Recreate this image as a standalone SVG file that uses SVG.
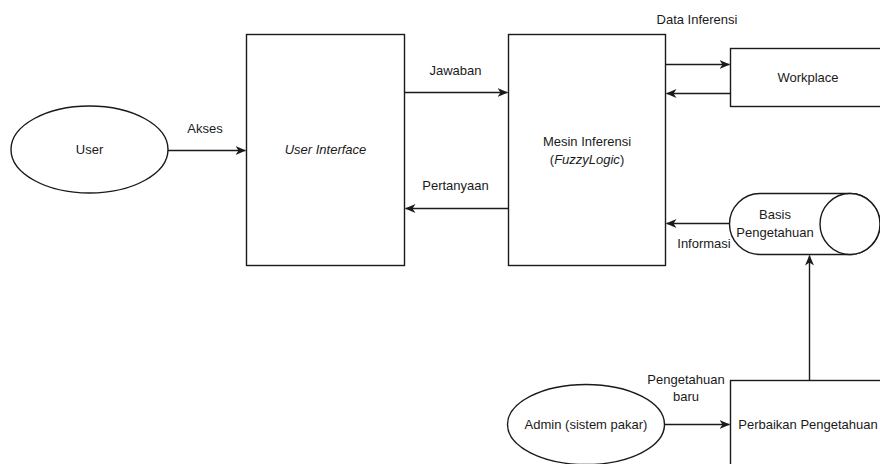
<svg xmlns="http://www.w3.org/2000/svg" width="880" height="464" viewBox="0 0 880 464">
<defs>
<marker id="arr" markerWidth="11" markerHeight="9" refX="10" refY="4.5" orient="auto" markerUnits="userSpaceOnUse">
<path d="M0,0 L10.5,4.5 L0,9 L3,4.5 Z" fill="#1a1a1a"/>
</marker>
<style>
.s{fill:#fff;stroke:#1a1a1a;stroke-width:1.4}
.c{fill:none;stroke:#1a1a1a;stroke-width:1.4;marker-end:url(#arr)}
text{font-family:"Liberation Sans",Arial,sans-serif;font-size:13px;fill:#1a1a1a;text-anchor:middle}
.i{font-style:italic}
</style>
</defs>
<rect width="880" height="464" fill="#fff"/>
<g id="user"><ellipse class="s" cx="89.5" cy="149.5" rx="78.5" ry="43.5"/><text x="89.5" y="154">User</text></g>
<g id="ui"><rect class="s" x="246.5" y="34.5" width="158" height="231"/><text class="i" x="325.5" y="154">User Interface</text></g>
<g id="mesin"><rect class="s" x="508.5" y="34.5" width="157" height="231"/><text x="587" y="146">Mesin Inferensi</text><text x="587" y="164">(<tspan class="i">FuzzyLogic</tspan>)</text></g>
<g id="workplace"><rect class="s" x="730.5" y="48.5" width="160" height="58"/><text x="808" y="82">Workplace</text></g>
<g id="basis"><path class="s" d="M760,193.5 L850,193.5 A30,30.5 0 0 1 850,254.5 L760,254.5 A30.5,30.5 0 0 1 760,193.5 Z"/><ellipse class="s" cx="850" cy="224" rx="30" ry="30.5"/><text x="775" y="219">Basis</text><text x="775" y="237">Pengetahuan</text></g>
<g id="admin"><ellipse class="s" cx="586" cy="424.5" rx="78.5" ry="40"/><text x="586" y="429">Admin (sistem pakar)</text></g>
<g id="perbaikan"><rect class="s" x="730.5" y="380.5" width="160" height="100"/><text x="808" y="429">Perbaikan Pengetahuan</text></g>
<g id="connectors">
<line class="c" x1="168" y1="150.5" x2="245.5" y2="150.5"/>
<line class="c" x1="404.5" y1="92.5" x2="507.5" y2="92.5"/>
<line class="c" x1="508.5" y1="208.5" x2="405.5" y2="208.5"/>
<line class="c" x1="665.5" y1="64.5" x2="729.5" y2="64.5"/>
<line class="c" x1="730.5" y1="93.5" x2="666.5" y2="93.5"/>
<line class="c" x1="729.5" y1="223.5" x2="666.5" y2="223.5"/>
<line class="c" x1="809.5" y1="380.5" x2="809.5" y2="255.5"/>
<line class="c" x1="664.5" y1="424.5" x2="729.5" y2="424.5"/>
<text x="205" y="133">Akses</text>
<text x="455.5" y="75">Jawaban</text>
<text x="455.5" y="190">Pertanyaan</text>
<text x="697" y="24">Data Inferensi</text>
<text x="704" y="248">Informasi</text>
<text x="686" y="384">Pengetahuan</text>
<text x="686" y="401">baru</text>
</g>
</svg>
